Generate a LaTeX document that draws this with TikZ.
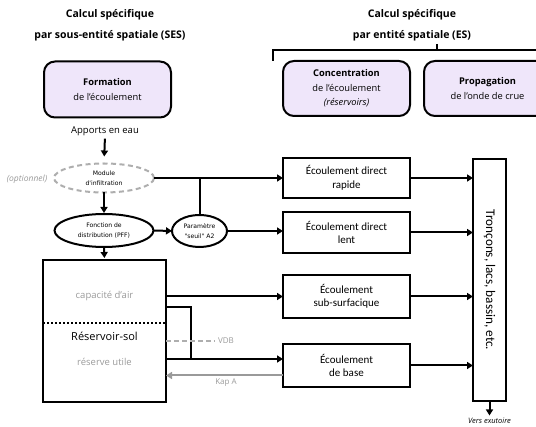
\documentclass[tikz,border=0pt]{standalone}
\usepackage{fontspec}
\setmainfont{Open Sans}
\newfontfamily\boxfont{Carlito}
\newfontfamily\ellfont{DejaVu Sans}
\usetikzlibrary{shapes.geometric,arrows.meta}
\definecolor{lavfill}{HTML}{EFE6FA}
\definecolor{softgray}{HTML}{9A9A9A}
\begin{document}
\begin{tikzpicture}[x=1pt,y=-1pt,
  every node/.style={inner sep=0pt,outer sep=0pt},
  title/.style={align=center,font=\fontsize{10.5}{21}\selectfont\bfseries},
  phase/.style={draw=black,line width=2pt,rounded corners=11pt,fill=lavfill,
    minimum width=127pt,minimum height=56pt,align=center,font=\fontsize{9.3}{14.5}\selectfont},
  flowbox/.style={draw=black,line width=2pt,minimum width=127pt,align=center,
    font=\boxfont\fontsize{11}{13.5}\selectfont},
  ell/.style={ellipse,draw=black,line width=2pt,align=center,font=\ellfont\fontsize{6.1}{9.5}\selectfont},
  conn/.style={line width=2pt},
  arr/.style={line width=2pt,-{Triangle[length=6pt,width=7pt]}},
  grayarr/.style={line width=2pt,draw=softgray,-{Triangle[length=6pt,width=7pt]}},
  graytxt/.style={text=softgray,font=\fontsize{9.5}{11}\selectfont},
  smallgray/.style={text=softgray,font=\fontsize{8}{9}\selectfont}
]
\useasboundingbox (0,0) rectangle (536,427);

% titles
\node[title] (tL) at (110,25.5) {Calcul spécifique\\par sous-entité spatiale (SES)};
\node[title] (tR) at (412,25.5) {Calcul spécifique\\par entité spatiale (ES)};
\coordinate (brL) at (273,61);
\coordinate (brC) at (437,44);
\draw[conn] (brL) -- (brL |- 0,50) -- (545,50);
\draw[conn] (brC) -- (brC |- 0,50);

% phase boxes
\node[phase] (form) at (107.5,89.5) {\textbf{Formation}\\de l'écoulement};
\node[phase,minimum height=55pt] (conc) at (346.5,88.5) {\textbf{Concentration}\\de l'écoulement\\\textit{(réservoirs)}};
\node[phase,minimum height=55pt] (prop) at (487.5,88.5) {\textbf{Propagation}\\de l'onde de crue};

% left chain
\node[font=\fontsize{9.5}{11}\selectfont] (app) at (105,131) {Apports en eau};
\node[ell,draw=softgray!80,dash pattern=on 5pt off 3.5pt,minimum width=100pt,minimum height=29pt] (mod) at (104,178) {Module\\d'infiltration};
\node[font=\fontsize{8.5}{9}\selectfont\itshape,text=softgray] (opt) at (27,179) {(optionnel)};
\node[ell,minimum width=99pt,minimum height=33pt] (fonc) at (104,230.5) {Fonction de\\distribution (PFF)};
\node[ell,minimum width=55pt,minimum height=32pt] (param) at (199.5,231) {Paramètre\\"seuil" A2};
\node[draw=black,line width=2pt,minimum width=123pt,minimum height=142pt] (res) at (104.5,331) {};
\node[graytxt] (cap) at (104.5,296) {capacité d'air};
\node[font=\fontsize{11}{12}\selectfont] (rsol) at (104.5,336) {Réservoir-sol};
\node[graytxt] (ru) at (104.5,362) {réserve utile};
\draw[line width=2pt,dash pattern=on 2pt off 2pt] (res.west |- 0,323) -- (res.east |- 0,323);

% flow boxes
\node[flowbox,minimum height=40pt] (b1) at (346.5,178) {Écoulement direct\\rapide};
\node[flowbox,minimum height=41pt] (b2) at (346.5,232.5) {Écoulement direct\\lent};
\node[flowbox,minimum height=43pt] (b3) at (346.5,296.5) {Écoulement\\sub-surfacique};
\node[flowbox,minimum height=43pt] (b4) at (346.5,365.5) {Écoulement\\de base};
\node[draw=black,line width=2pt,minimum width=33pt,minimum height=242pt] (tron) at (489.5,280) {};
\node[rotate=-90,font=\boxfont\fontsize{13.2}{15}\selectfont] (trtxt) at (tron.center) {Tronçons, lacs, bassin, etc.};
\node[anchor=north,font=\fontsize{7.5}{9}\selectfont\itshape] (vers) at (489.5,417.5) {Vers exutoire};

% connectors
\draw[arr,shorten <=3pt,shorten >=7pt] (app.south) -- (mod.north);
\draw[arr,shorten >=1pt] (mod.south) -- (fonc.north);
\draw[arr] (fonc.east) -- (param.west);
\draw[arr,shorten >=2pt] (fonc.south) -- (res.north);
\draw[arr] (mod.east) -- (b1.west);
\draw[conn] (param.north) -- (param.north |- b1.west);
\draw[arr] (param.east) -- (param.east -| b2.west);

\draw[arr] (res.east |- b3.west) -- (b3.west);
\coordinate (k1) at (191,307);
\coordinate (k2) at (191,359);
\draw[conn] (res.east |- k1) -- (k1) -- (k2);
\draw[arr] (res.east |- k2) -- (b4.west |- k2);
\node[smallgray] (vdb) at (226,341) {VDB};
\draw[line width=2pt,draw=softgray!80,dash pattern=on 5pt off 3pt] (res.east |- vdb) -- ([xshift=-3pt]vdb.west);
\coordinate (kapy) at (0,375.5);
\draw[grayarr] (b4.west |- kapy) -- (res.east |- kapy);
\node[smallgray] (kap) at (226,382.5) {Kap A};

\draw[arr] (b1.east) -- (b1.east -| tron.west);
\draw[arr] (b2.east) -- (b2.east -| tron.west);
\draw[arr] (b3.east) -- (b3.east -| tron.west);
\draw[arr] (b4.east) -- (b4.east -| tron.west);
\draw[arr,shorten >=2pt] (tron.south) -- (vers.north);
\end{tikzpicture}
\end{document}
